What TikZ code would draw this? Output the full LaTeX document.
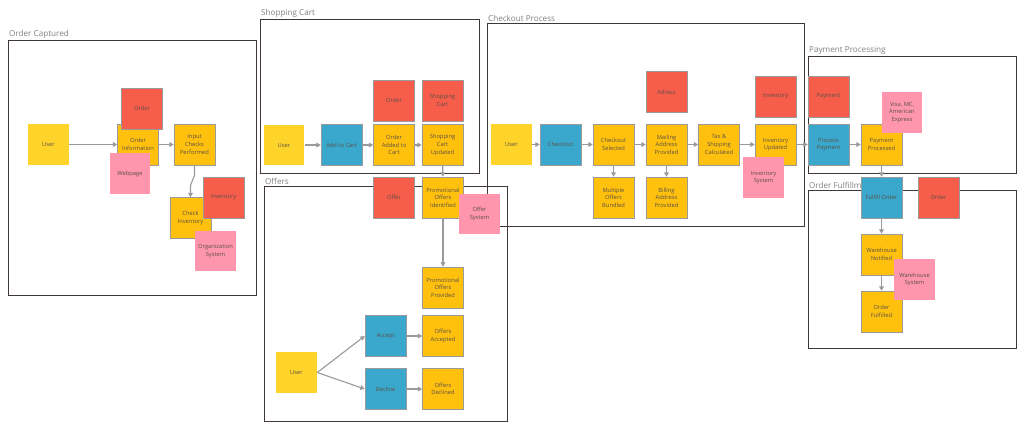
\documentclass[tikz,border=0pt]{standalone}
\usepackage{fontspec}
\setmainfont{Open Sans}
\usepackage{tikz}
\usetikzlibrary{arrows.meta, positioning, calc}
\definecolor{vuser}{HTML}{FFD42A}
\definecolor{vstep}{HTML}{FFC10E}
\definecolor{vdata}{HTML}{F65D4A}
\definecolor{vact}{HTML}{3AA8CC}
\definecolor{vsys}{HTML}{FF96AE}
\definecolor{vedge}{HTML}{9A9A9A}
\definecolor{vframe}{HTML}{3F3636}
\definecolor{vlabel}{HTML}{7F7F7F}
\definecolor{vtext}{HTML}{5A5046}
\tikzset{
  card/.style={rectangle, minimum width=1.02cm, minimum height=1.02cm, inner sep=1pt,
               align=center, text=vtext, font=\fontsize{4.1}{5.4}\selectfont, line width=0.5pt},
  user/.style={card, fill=vuser},
  event/.style={card, fill=vstep, draw=vedge},
  data/.style={card, fill=vdata, draw=vedge},
  action/.style={card, fill=vact, draw=vedge},
  system/.style={card, fill=vsys},
  flow/.style={-{Triangle[length=1.1mm, width=1.2mm]}, draw=vedge, line width=0.8pt},
  lane/.style={draw=vframe, line width=0.6pt},
  lanetitle/.style={anchor=south west, inner sep=0.6pt, text=vlabel, font=\fontsize{5.8}{6.5}\selectfont}
}

\begin{document}
\begin{tikzpicture}[x=0.025cm, y=-0.025cm]
  \useasboundingbox (0,0) rectangle (1024,430);

  % frames
  \draw[lane] (8,40) rectangle (256,295);
  \node[lanetitle] (capturedtitle) at (8,40) {Order Captured};
  \draw[lane] (260,19) rectangle (479,173);
  \node[lanetitle] (carttitle) at (260,19) {Shopping Cart};
  \draw[lane] (264,186) rectangle (507,421);
  \node[lanetitle] (offerstitle) at (264,186) {Offers};
  \draw[lane] (487,23) rectangle (804,226);
  \node[lanetitle] (checkouttitle) at (487,23) {Checkout Process};
  \draw[lane] (808,56) rectangle (1016,173);
  \node[lanetitle] (paymenttitle) at (808,56) {Payment Processing};
  \draw[lane] (808,190) rectangle (1016,348);
  \node[lanetitle] (fulfiltitle) at (808,190) {Order Fulfillment};

  % order captured
  \node[user] (cuser) at (48.5,144.5) {User};
  \node[event] (corderinfo) at (138,144.5) {Order\\Information};
  \node[data] (corder) at (142,108.5) {Order};
  \node[system] (cweb) at (130,173.5) {Webpage};
  \node[event] (cinput) at (194.5,144.5) {Input\\Checks\\Performed};
  \node[event] (ccheck) at (190.5,218) {Check\\Inventory};
  \node[data] (cinv) at (223.5,197.5) {Inventory};
  \node[system] (corgsys) at (215.5,251) {Organization\\System};

  % shopping cart
  \node[user] (suser) at (284,145) {User};
  \node[action] (sadd) at (341.5,145) {Add to Cart};
  \node[event] (sadded) at (394,145) {Order\\Added to\\Cart};
  \node[event] (supdated) at (442.5,145) {Shopping\\Cart\\Updated};
  \node[data] (sorder) at (394,100.5) {Order};
  \node[data] (scart) at (442.5,100.5) {Shopping\\Cart};

  % offers
  \node[data] (ooffer) at (394,197.5) {Offer};
  \node[event] (oident) at (443,197.5) {Promotional\\Offers\\Identified};
  \node[system] (osys) at (479.5,214) {Offer\\System};
  \node[event] (oprov) at (443,287.5) {Promotional\\Offers\\Provided};
  \node[action] (oaccept) at (385.5,336) {Accept};
  \node[event] (oaccepted) at (443,336) {Offers\\Accepted};
  \node[user] (ouser) at (296.5,372.5) {User};
  \node[action] (odecline) at (385.5,389) {Decline};
  \node[event] (odeclined) at (443,389) {Offers\\Declined};

  % checkout process
  \node[user] (kuser) at (511.5,144.5) {User};
  \node[action] (kcheckout) at (560.5,144.5) {Checkout};
  \node[event] (ksel) at (613.5,144.5) {Checkout\\Selected};
  \node[event] (kmail) at (666.5,144.5) {Mailing\\Address\\Provided};
  \node[event] (ktax) at (719,144.5) {Tax \&\\Shipping\\Calculated};
  \node[event] (kinvupd) at (775.5,144.5) {Inventory\\Updated};
  \node[data] (kadr) at (666.5,92) {Adress};
  \node[data] (kinv) at (775.5,96.5) {Inventory};
  \node[event] (kbundle) at (613.5,197.5) {Multiple\\Offers\\Bundled};
  \node[event] (kbill) at (666.5,197.5) {Billing\\Address\\Provided};
  \node[system] (kinvsys) at (763.5,177.5) {Inventory\\System};

  % payment processing
  \node[data] (ppay) at (828.5,96.5) {Payment};
  \node[action] (pproc) at (828.5,144.5) {Process\\Payment};
  \node[event] (pdone) at (881.5,144.5) {Payment\\Processed};
  \node[system] (pcards) at (902,112.5) {Visa, MC,\\American\\Express};

  % order fulfillment
  \node[action] (ffulfill) at (881.5,197.5) {Fulfill Order};
  \node[data] (forder) at (938.5,197.5) {Order};
  \node[event] (fnotified) at (881.5,254.5) {Warehouse\\Notified};
  \node[event] (fdone) at (881.5,311.5) {Order\\Fulfilled};
  \node[system] (fsys) at (914.5,279.5) {Warehouse\\System};

  % connectors
  \draw[flow] (cuser) -- (corderinfo);
  \draw[flow] (corderinfo) -- (cinput);
  \draw[flow] (cinput.south) -- ++(0,10) -- ($(ccheck.north)+(0,-12)$) -- (ccheck.north);
  \draw[flow] (suser) -- (sadd);
  \draw[flow] (sadd) -- (sadded);
  \draw[flow] (sadded) -- (supdated);
  \draw[flow] (supdated) -- (oident);
  \draw[flow] (oident) -- (oprov);
  \draw[flow] (ouser.east) -- (oaccept.west);
  \draw[flow] (ouser.east) -- (odecline.west);
  \draw[flow] (oaccept) -- (oaccepted);
  \draw[flow] (odecline) -- (odeclined);
  \draw[flow] (kuser) -- (kcheckout);
  \draw[flow] (kcheckout) -- (ksel);
  \draw[flow] (ksel) -- (kmail);
  \draw[flow] (kmail) -- (ktax);
  \draw[flow] (ktax) -- (kinvupd);
  \draw[flow] (kinvupd) -- (pproc);
  \draw[flow] (ksel) -- (kbundle);
  \draw[flow] (kmail) -- (kbill);
  \draw[flow] (pproc) -- (pdone);
  \draw[flow] (pdone) -- (ffulfill);
  \draw[flow] (ffulfill) -- (fnotified);
  \draw[flow] (fnotified) -- (fdone);
\end{tikzpicture}
\end{document}
